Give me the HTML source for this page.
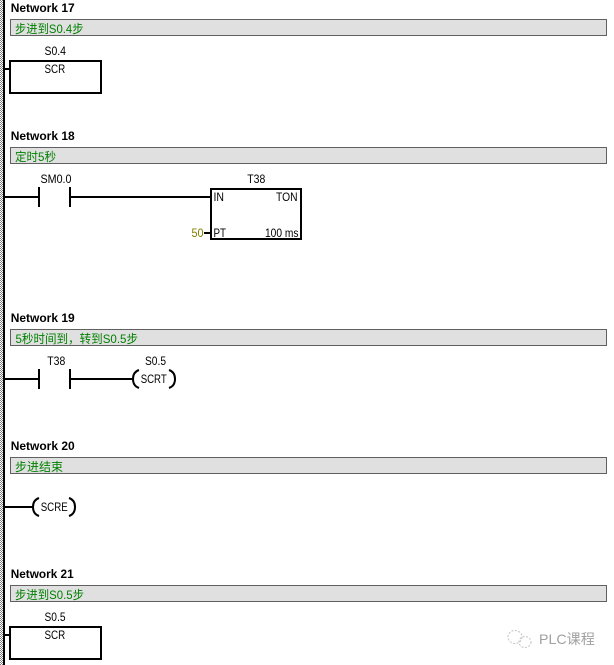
<!DOCTYPE html>
<html>
<head>
<meta charset="utf-8">
<style>
html,body{margin:0;padding:0;background:#fff;width:614px;height:665px;overflow:hidden}
svg{display:block}
text{font-family:"Liberation Sans","Noto Sans CJK SC",sans-serif;font-size:12px;fill:#000}
.n{font-weight:bold;font-size:12px}
.c{fill:#008000;font-size:12px}
.w{fill:none;stroke:#000;stroke-width:2}
.b{fill:#e0e0e0;stroke:#606060;stroke-width:1}
</style>
</head>
<body>
<svg width="614" height="665" viewBox="0 0 614 665" xmlns="http://www.w3.org/2000/svg" shape-rendering="crispEdges">
<defs>
<pattern id="d" width="2" height="2" patternUnits="userSpaceOnUse">
<rect width="2" height="2" fill="#fff"/><rect width="1" height="1" fill="#808080"/><rect x="1" y="1" width="1" height="1" fill="#808080"/>
</pattern>
</defs>
<rect x="0" y="0" width="3" height="665" fill="url(#d)"/>
<rect x="3" y="0" width="2" height="665" fill="#000"/>

<!-- Network 17 -->
<text class="n" x="10.700" y="12" textLength="64" lengthAdjust="spacingAndGlyphs">Network 17</text>
<rect class="b" x="10.500" y="19.500" width="596" height="16"/>
<text class="c" x="15" y="33" textLength="68.500" lengthAdjust="spacingAndGlyphs">步进到S0.4步</text>
<text x="44.500" y="55" textLength="21.500" lengthAdjust="spacingAndGlyphs">S0.4</text>
<text x="44.500" y="73" textLength="20.700" lengthAdjust="spacingAndGlyphs">SCR</text>
<rect class="w" x="10" y="61" width="91" height="32"/>
<path class="w" d="M5 69H10"/>

<!-- Network 18 -->
<text class="n" x="10.700" y="140" textLength="64" lengthAdjust="spacingAndGlyphs">Network 18</text>
<rect class="b" x="10.500" y="147.500" width="596" height="16"/>
<text class="c" x="15" y="161" textLength="41" lengthAdjust="spacingAndGlyphs">定时5秒</text>
<text x="40.500" y="183" textLength="31" lengthAdjust="spacingAndGlyphs">SM0.0</text>
<path class="w" d="M5 197H39M39 187V207M70 187V207M70 197H210"/>
<text x="247.300" y="183" textLength="18" lengthAdjust="spacingAndGlyphs">T38</text>
<rect class="w" x="211" y="189" width="90" height="50"/>
<text x="213.500" y="201" textLength="10.500" lengthAdjust="spacingAndGlyphs">IN</text>
<text x="276" y="201" textLength="21.500" lengthAdjust="spacingAndGlyphs">TON</text>
<text x="213.500" y="237" textLength="12.500" lengthAdjust="spacingAndGlyphs">PT</text>
<text x="265" y="237" textLength="33.500" lengthAdjust="spacingAndGlyphs">100 ms</text>
<text x="191.500" y="237" textLength="12" lengthAdjust="spacingAndGlyphs" style="fill:#808000">50</text>
<path class="w" d="M204 233H210"/>

<!-- Network 19 -->
<text class="n" x="10.700" y="322" textLength="64" lengthAdjust="spacingAndGlyphs">Network 19</text>
<rect class="b" x="10.500" y="329.500" width="596" height="16"/>
<text class="c" x="15.500" y="343" textLength="122.500" lengthAdjust="spacingAndGlyphs">5秒时间到，转到S0.5步</text>
<text x="47.300" y="365" textLength="18" lengthAdjust="spacingAndGlyphs">T38</text>
<path class="w" d="M5 379H39M39 369V389M70 369V389M70 379H133"/>
<text x="145" y="365" textLength="21" lengthAdjust="spacingAndGlyphs">S0.5</text>
<text x="140.700" y="383" textLength="26" lengthAdjust="spacingAndGlyphs">SCRT</text>
<g shape-rendering="auto">
<path class="w" d="M139 370Q133 372 133 379Q133 386 139 388"/>
<path class="w" d="M169 370Q175 372 175 379Q175 386 169 388"/>
</g>

<!-- Network 20 -->
<text class="n" x="10.700" y="450" textLength="64" lengthAdjust="spacingAndGlyphs">Network 20</text>
<rect class="b" x="10.500" y="457.500" width="596" height="16"/>
<text class="c" x="15" y="471" textLength="48" lengthAdjust="spacingAndGlyphs">步进结束</text>
<path class="w" d="M5 507H33"/>
<text x="40.700" y="511" textLength="27" lengthAdjust="spacingAndGlyphs">SCRE</text>
<g shape-rendering="auto">
<path class="w" d="M39 498Q33 500 33 507Q33 514 39 516"/>
<path class="w" d="M69 498Q75 500 75 507Q75 514 69 516"/>
</g>

<!-- Network 21 -->
<text class="n" x="10.700" y="578" textLength="63" lengthAdjust="spacingAndGlyphs">Network 21</text>
<rect class="b" x="10.500" y="585.500" width="596" height="16"/>
<text class="c" x="15" y="599" textLength="69" lengthAdjust="spacingAndGlyphs">步进到S0.5步</text>
<text x="44.500" y="621" textLength="21" lengthAdjust="spacingAndGlyphs">S0.5</text>
<text x="44.500" y="639" textLength="20.700" lengthAdjust="spacingAndGlyphs">SCR</text>
<rect class="w" x="10" y="627" width="91" height="32"/>
<path class="w" d="M5 635H10"/>

<!-- Watermark -->
<g shape-rendering="auto" fill="none" stroke="#c4c4c4" stroke-width="1" stroke-dasharray="2 1.500">
<ellipse cx="515" cy="637" rx="7" ry="6.500"/>
<ellipse cx="525" cy="642" rx="6" ry="5.500"/>
</g>
<text x="539" y="644" style="fill:#a0a0a0;font-size:14px" textLength="56" lengthAdjust="spacingAndGlyphs">PLC课程</text>
</svg>
</body>
</html>
